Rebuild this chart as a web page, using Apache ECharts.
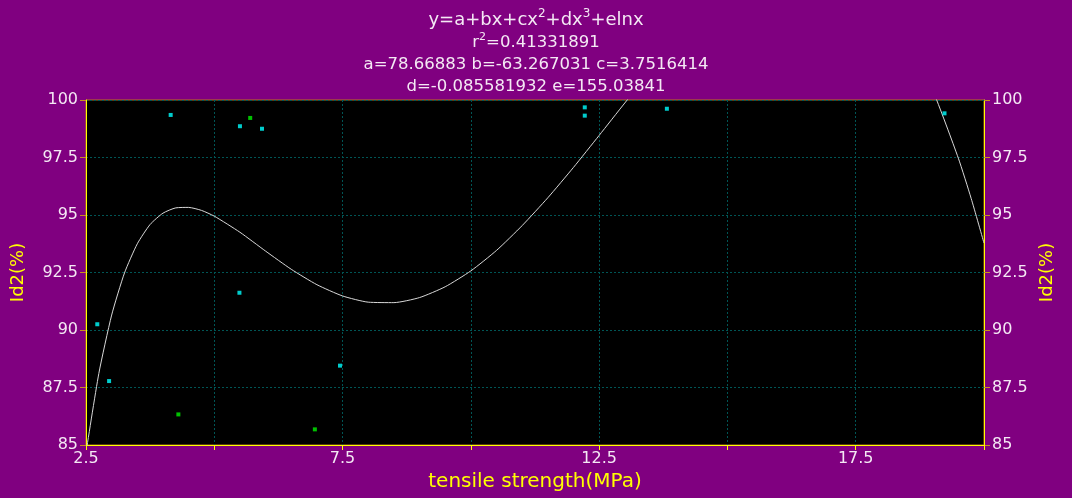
<!DOCTYPE html>
<html>
<head>
<meta charset="utf-8">
<script src="https://cdn.jsdelivr.net/npm/echarts@6/dist/echarts.min.js"></script>
<style>
html, body { margin: 0; padding: 0; background: #800080; }
#chart { width: 1072px; height: 498px; }
</style>
</head>
<body>
<div id="chart"></div>
<script>
// measured points (cyan and green markers)
var cyanX = [4.15, 5.50, 5.93, 5.49, 2.72, 2.95, 7.45, 12.22, 12.22, 13.82, 19.23];
var cyanY = [99.35, 98.86, 98.75, 91.62, 90.25, 87.78, 88.45, 99.68, 99.32, 99.62, 99.42];
var greenX = [5.70, 4.30, 6.96];
var greenY = [99.22, 86.33, 85.68];

// fitted curve
var curveX = [2.5, 2.75, 3, 3.25, 3.5, 3.75, 4, 4.25, 4.5, 4.75, 5, 5.5, 6, 6.5, 7, 7.5, 8, 8.5, 9, 9.5, 10, 10.5, 11, 11.5, 12, 12.5, 13, 13.5, 14, 15, 16, 17, 18, 18.5, 19, 19.5, 19.75, 20];
var curveY = [84.67, 88.11, 90.65, 92.48, 93.75, 94.59, 95.08, 95.31, 95.33, 95.20, 94.95, 94.25, 93.43, 92.64, 91.97, 91.48, 91.21, 91.19, 91.41, 91.88, 92.57, 93.46, 94.54, 95.75, 97.07, 98.46, 99.87, 101.25, 102.57, 104.80, 106.13, 106.15, 104.40, 102.72, 100.43, 97.47, 95.72, 93.78];

var xTicks = ['2.5', '7.5', '12.5', '17.5'];
var yName = 'Id2(%)';
var xName = 'tensile strength(MPa)';

function pairs(xs, ys) {
	var out = [];
	for (var i = 0; i < xs.length; i++) {
		out.push([xs[i], ys[i]]);
	}
	return out;
}

var font = 'DejaVu Sans';
var txt = '#f4e8f4';
var myChart = echarts.init(document.getElementById('chart'));

var yAxisBase = function (pos) {
	return {
		type: 'value',
		position: pos,
		min: 85,
		max: 100,
		interval: 2.5,
		name: yName,
		nameLocation: 'middle',
		nameGap: pos == 'left' ? 59 : 54,
		nameTextStyle: { color: '#ffff00', fontSize: 18, fontFamily: font },
		axisLine: { show: true, lineStyle: { color: '#ffff00', width: 1 } },
		axisTick: { show: true, length: 6, lineStyle: { color: '#c89020' } },
		axisLabel: { color: txt, fontSize: 16, fontFamily: font, margin: 8 },
		splitLine: {
			show: pos == 'left',
			lineStyle: { color: '#005555', type: [2, 2], width: 1 }
		}
	};
};

var option = {
	backgroundColor: '#800080',
	animation: false,
	title: {
		left: 'center',
		top: 3,
		text: '{a|y=a+bx+cx}{s|2}{a|+dx}{s|3}{a|+elnx}\n{b|r}{t|2}{b|=0.41331891}\n{b|a=78.66883 b=-63.267031 c=3.7516414}\n{b|d=-0.085581932 e=155.03841}',
		textStyle: {
			fontWeight: 'normal',
			align: 'center',
			rich: {
				a: { color: txt, fontSize: 18, fontWeight: 'normal', fontFamily: font, lineHeight: 24 },
				s: { color: txt, fontSize: 12, fontWeight: 'normal', fontFamily: font, lineHeight: 24, verticalAlign: 'top' },
				b: { color: txt, fontSize: 16.5, fontWeight: 'normal', fontFamily: font, lineHeight: 22 },
				t: { color: txt, fontSize: 11, fontWeight: 'normal', fontFamily: font, lineHeight: 22, verticalAlign: 'top' }
			}
		}
	},
	grid: {
		left: 86,
		right: 88,
		top: 100,
		bottom: 53,
		show: true,
		backgroundColor: '#000000',
		borderColor: '#b8741a',
		borderWidth: 1
	},
	xAxis: {
		type: 'value',
		min: 2.5,
		max: 20,
		interval: 2.5,
		name: xName,
		nameLocation: 'middle',
		nameGap: 25,
		nameTextStyle: { color: '#ffff00', fontSize: 20, fontFamily: font },
		axisLine: { show: true, onZero: false, lineStyle: { color: '#ffff00', width: 1 } },
		axisTick: { show: true, length: 5, lineStyle: { color: '#ffff00' } },
		axisLabel: {
			color: txt,
			fontSize: 16,
			fontFamily: font,
			margin: 6,
			formatter: function (v) {
				var s = String(v);
				return xTicks.indexOf(s) >= 0 ? s : '';
			}
		},
		splitLine: { show: true, lineStyle: { color: '#005555', type: [2, 2], width: 1 } }
	},
	yAxis: [yAxisBase('left'), yAxisBase('right')],
	series: [
		{
			name: 'fit',
			type: 'line',
			data: pairs(curveX, curveY),
			smooth: 0.2,
			showSymbol: false,
			clip: true,
			lineStyle: { color: '#d8d8d8', width: 1 },
			z: 2
		},
		{
			name: 'cyan',
			type: 'scatter',
			data: pairs(cyanX, cyanY),
			symbol: 'rect',
			symbolSize: 4,
			itemStyle: { color: '#00ffff' },
			z: 3
		},
		{
			name: 'green',
			type: 'scatter',
			data: pairs(greenX, greenY),
			symbol: 'rect',
			symbolSize: 4,
			itemStyle: { color: '#00f000' },
			z: 3
		}
	]
};

myChart.setOption(option);
window.addEventListener('resize', function () {
	myChart.resize();
});
</script>
</body>
</html>
